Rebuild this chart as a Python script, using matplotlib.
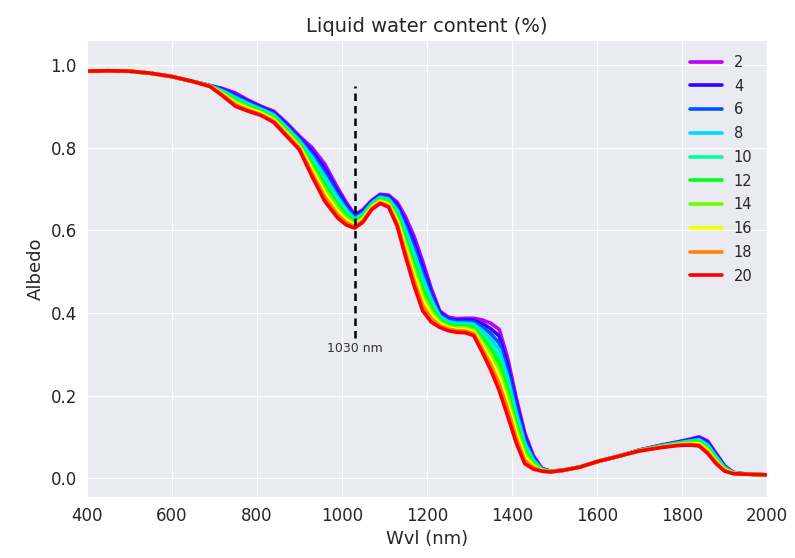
import matplotlib
matplotlib.use('Agg')
import matplotlib.pyplot as plt
import numpy as np
import seaborn as sns

sns.set_style('darkgrid')

# wavelength grid (nm)
wvl = [400, 450, 500, 550, 600, 650, 690, 720, 750, 780, 810, 840, 870, 900, 930, 960,
       990, 1010, 1030, 1050, 1070, 1090, 1110, 1130, 1150, 1170, 1190, 1210, 1230, 1250,
       1270, 1290, 1310, 1330, 1350, 1370, 1390, 1410, 1430, 1450, 1470, 1490, 1520, 1560,
       1600, 1650, 1700, 1750, 1790, 1820, 1840, 1860, 1880, 1900, 1920, 1940, 1970, 2000]

lwc = [2, 4, 6, 8, 10, 12, 14, 16, 18, 20]

alb_2 = [.985, .986, .985, .980, .972, .960, .950, .943, .932, .915, .900, .888, .860, .828, .800, .760,
         .703, .668, .638, .650, .672, .687, .685, .668, .632, .585, .525, .460, .405, .390,
         .386, .387, .387, .383, .375, .360, .290, .195, .110, .055, .024, .017, .019, .027,
         .040, .053, .068, .080, .088, .095, .100, .090, .060, .030, .014, .011, .009, .008]
alb_4 = [.985, .986, .985, .980, .972, .960, .950, .941, .928, .912, .898, .885, .856, .824, .792, .750,
         .695, .662, .634, .647, .670, .685, .682, .662, .621, .572, .512, .451, .401, .386,
         .382, .383, .382, .374, .362, .344, .274, .183, .102, .051, .023, .017, .019, .027,
         .040, .053, .068, .079, .087, .093, .098, .087, .057, .029, .014, .011, .009, .008]
alb_6 = [.985, .986, .985, .980, .972, .960, .950, .939, .925, .909, .895, .882, .853, .821, .784, .740,
         .687, .656, .631, .643, .667, .682, .679, .655, .610, .558, .498, .442, .396, .383,
         .379, .379, .378, .366, .350, .327, .259, .171, .093, .048, .022, .017, .019, .027,
         .040, .053, .068, .079, .086, .092, .095, .083, .054, .027, .013, .011, .009, .008]
alb_8 = [.985, .986, .985, .980, .972, .960, .949, .937, .921, .906, .893, .879, .849, .817, .777, .730,
         .679, .650, .627, .640, .665, .680, .675, .649, .600, .545, .485, .433, .392, .379,
         .375, .375, .373, .357, .337, .311, .243, .158, .085, .044, .022, .016, .019, .027,
         .040, .053, .067, .078, .085, .090, .093, .080, .052, .026, .013, .011, .009, .008]
alb_10 = [.985, .986, .985, .980, .972, .960, .949, .935, .918, .903, .890, .876, .846, .813, .769, .720,
          .671, .644, .623, .637, .662, .677, .672, .642, .589, .532, .472, .424, .387, .375,
          .371, .371, .368, .348, .325, .294, .228, .146, .077, .040, .021, .016, .019, .027,
          .040, .053, .067, .077, .084, .088, .090, .077, .049, .024, .013, .011, .009, .008]
alb_12 = [.985, .986, .985, .980, .972, .960, .949, .933, .914, .900, .888, .873, .842, .810, .761, .710,
          .662, .637, .620, .633, .660, .675, .669, .636, .578, .518, .458, .414, .383, .372,
          .368, .368, .364, .340, .312, .278, .212, .134, .068, .037, .020, .016, .019, .027,
          .040, .053, .067, .077, .083, .087, .088, .073, .046, .023, .012, .010, .009, .008]
alb_14 = [.985, .986, .985, .980, .972, .960, .949, .931, .911, .897, .885, .870, .839, .806, .753, .700,
          .654, .631, .616, .630, .657, .672, .666, .629, .567, .505, .445, .405, .378, .368,
          .364, .364, .359, .331, .300, .261, .197, .122, .060, .033, .019, .016, .019, .027,
          .040, .053, .067, .076, .082, .085, .085, .070, .043, .021, .012, .010, .009, .008]
alb_16 = [.985, .986, .985, .980, .972, .960, .948, .929, .907, .894, .883, .867, .835, .802, .746, .690,
          .646, .625, .612, .627, .655, .670, .662, .623, .556, .492, .432, .396, .374, .364,
          .360, .360, .354, .322, .287, .245, .181, .110, .052, .029, .019, .015, .019, .027,
          .040, .053, .066, .075, .081, .083, .083, .067, .040, .020, .012, .010, .009, .008]
alb_18 = [.985, .986, .985, .980, .972, .960, .948, .927, .904, .891, .880, .864, .832, .799, .738, .680,
          .638, .619, .609, .623, .652, .667, .659, .616, .546, .478, .418, .387, .369, .361,
          .357, .356, .350, .314, .275, .228, .166, .097, .043, .026, .018, .015, .019, .027,
          .040, .053, .066, .075, .080, .082, .080, .063, .038, .018, .011, .010, .009, .008]
alb_20 = [.985, .986, .985, .980, .972, .960, .948, .925, .900, .888, .878, .861, .828, .795, .730, .670,
          .630, .613, .605, .620, .650, .665, .656, .610, .535, .465, .405, .378, .365, .357,
          .353, .352, .345, .305, .262, .212, .150, .085, .035, .022, .017, .015, .019, .027,
          .040, .053, .066, .074, .079, .080, .078, .060, .035, .017, .011, .010, .009, .008]

albedos = [alb_2, alb_4, alb_6, alb_8, alb_10, alb_12, alb_14, alb_16, alb_18, alb_20]

# marker line
mark_wvl = 1030

fig = plt.figure(figsize=(7.95, 5.58), dpi=100)
ax = fig.add_axes([0.109, 0.109, 0.856, 0.819])

colors = plt.cm.hsv(np.linspace(0.8, 0, len(lwc)))
for c, w, a in zip(colors, lwc, albedos):
    ax.plot(wvl, a, color=c, lw=2.6, label=str(w))

ax.vlines(mark_wvl, 0.34, 0.95, colors='k', linestyles=(0, (3, 2)), lw=1.8)
ax.text(mark_wvl, 0.315, f'{mark_wvl} nm', ha='center', va='center', fontsize=9, color='#333333')

ax.set_xlim(400, 2000)
ax.set_ylim(-0.046, 1.06)
ax.set_xticks(np.arange(400, 2001, 200))
ax.set_yticks(np.arange(0, 1.01, 0.2))
ax.tick_params(labelsize=12)
ax.set_xlabel('Wvl (nm)', fontsize=13)
ax.set_ylabel('Albedo', fontsize=13)
ax.set_title('Liquid water content (%)', fontsize=14)
ax.legend(loc='upper right', frameon=False, fontsize=10.5, handlelength=2.2,
          labelspacing=0.6, borderaxespad=0.6)

fig.savefig('out.png', dpi=100)
